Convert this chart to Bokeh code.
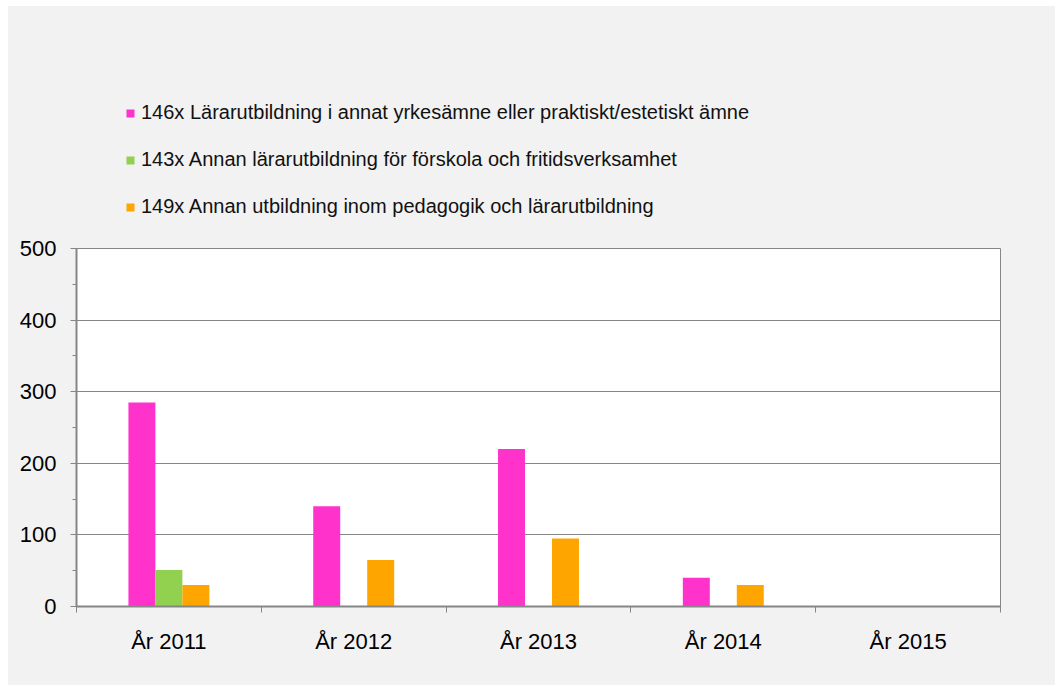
from bokeh.plotting import figure
from bokeh.layouts import column
from bokeh.models import Range1d, FixedTicker, Legend, LegendItem, ColumnDataSource
from bokeh.embed import file_html
from bokeh.resources import INLINE
import numpy as np

years = ["År 2011", "År 2012", "År 2013", "År 2014", "År 2015"]
series_names = [
    "146x Lärarutbildning i annat yrkesämne eller praktiskt/estetiskt ämne",
    "143x Annan lärarutbildning för förskola och fritidsverksamhet",
    "149x Annan utbildning inom pedagogik och lärarutbildning",
]
s146 = [285, 140, 220, 40, 0]
s143 = [51, 0, 0, 0, 0]
s149 = [30, 65, 95, 30, 0]
colors = ["#FF33CC", "#92D050", "#FFA500"]
y_ticks = [0, 100, 200, 300, 400, 500]

FONT = "Liberation Sans"
GRID = "#868686"
BG = "#F2F2F2"
W = 1047

# ---- legend strip (top) ----
lg = figure(width=W, height=227, output_backend="svg", toolbar_location=None,
            x_range=Range1d(0, 1), y_range=Range1d(0, 1),
            min_border=0, x_axis_type=None, y_axis_type=None)
lg.grid.grid_line_color = None
lg.outline_line_color = None
lg.background_fill_color = None
lg.border_fill_color = BG
lg_items = []
for name, col in zip(series_names, colors):
    r = lg.vbar(x=[-10], top=[-10], width=0.1, fill_color=col, line_color=None)
    lg_items.append(LegendItem(label=name, renderers=[r]))
legend = Legend(items=lg_items, location=(49, 15), orientation="vertical")
legend.background_fill_alpha = 0
legend.border_line_color = None
legend.padding = 0
legend.margin = 0
legend.spacing = 24
legend.glyph_width = 10
legend.glyph_height = 10
legend.label_height = 20
legend.label_standoff = 6
legend.label_text_font = FONT
legend.label_text_font_size = "20px"
legend.label_text_color = "#111111"
lg.add_layout(legend, "center")

# ---- main chart ----
p = figure(width=W, height=452, output_backend="svg", toolbar_location=None,
           x_range=Range1d(0, len(years)), y_range=Range1d(0, 500),
           min_border_left=68, min_border_right=55, min_border_top=15, min_border_bottom=79)
p.background_fill_color = "white"
p.border_fill_color = BG
p.outline_line_color = GRID
p.outline_line_width = 1

centers = np.arange(len(years)) + 0.5
bw = 0.146
offsets = [-bw, 0.0, bw]
for vals, off, col in zip([s146, s143, s149], offsets, colors):
    src = ColumnDataSource(dict(x=centers + off, top=vals))
    p.vbar(x="x", top="top", width=bw, source=src, fill_color=col, line_color=None)

p.xaxis.ticker = FixedTicker(ticks=list(centers), minor_ticks=list(range(len(years) + 1)))
p.xaxis.major_label_overrides = {float(c): y for c, y in zip(centers, years)}
p.xaxis.major_tick_line_color = None
p.xaxis.minor_tick_line_color = GRID
p.xaxis.minor_tick_out = 6
p.xaxis.minor_tick_in = 0
p.xaxis.axis_line_color = GRID
p.xaxis.axis_line_width = 2
p.xaxis.major_label_text_font = FONT
p.xaxis.major_label_text_font_size = "22px"
p.xaxis.major_label_text_color = "black"
p.xaxis.major_label_standoff = 16
p.xgrid.grid_line_color = None

p.yaxis.ticker = FixedTicker(ticks=y_ticks, minor_ticks=[50, 150, 250, 350, 450])
p.yaxis.axis_line_color = GRID
p.yaxis.axis_line_width = 2
p.yaxis.major_tick_line_color = GRID
p.yaxis.major_tick_out = 6
p.yaxis.major_tick_in = 0
p.yaxis.minor_tick_line_color = GRID
p.yaxis.minor_tick_out = 4
p.yaxis.minor_tick_in = 0
p.yaxis.major_label_text_font = FONT
p.yaxis.major_label_text_font_size = "22px"
p.yaxis.major_label_text_color = "black"
p.yaxis.major_label_standoff = 14
p.ygrid.grid_line_color = GRID
p.ygrid.grid_line_width = 1
p.ygrid.ticker = FixedTicker(ticks=y_ticks)

layout = column(lg, p, spacing=0)
layout.margin = (6, 0, 0, 8)
layout.styles = {"background-color": BG}

open("out.html", "w").write(file_html(layout, INLINE))
